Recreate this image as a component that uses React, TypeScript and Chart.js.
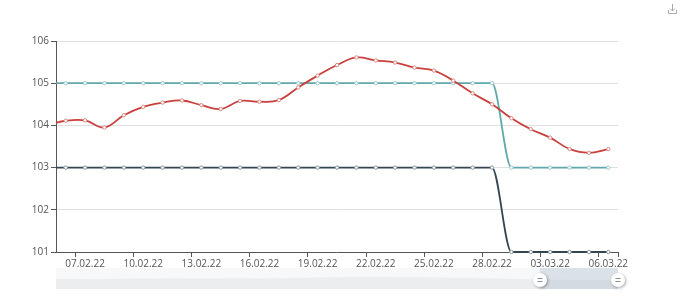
import React, { useEffect, useRef } from "react";
import { Chart, registerables } from "chart.js";

Chart.register(...registerables);

const dates = [
  "05.02.22", "06.02.22", "07.02.22", "08.02.22", "09.02.22", "10.02.22", "11.02.22", "12.02.22",
  "13.02.22", "14.02.22", "15.02.22", "16.02.22", "17.02.22", "18.02.22", "19.02.22", "20.02.22",
  "21.02.22", "22.02.22", "23.02.22", "24.02.22", "25.02.22", "26.02.22", "27.02.22", "28.02.22",
  "01.03.22", "02.03.22", "03.03.22", "04.03.22", "05.03.22", "06.03.22",
];

const redSeries = [
  104.0, 104.11, 104.12, 103.95, 104.24, 104.44, 104.54, 104.59, 104.48, 104.39, 104.58, 104.56,
  104.6, 104.9, 105.18, 105.43, 105.61, 105.54, 105.49, 105.37, 105.3, 105.06, 104.76, 104.5,
  104.17, 103.91, 103.71, 103.44, 103.35, 103.44,
];

const cyanSeries = [
  105, 105, 105, 105, 105, 105, 105, 105, 105, 105, 105, 105, 105, 105, 105, 105, 105, 105, 105,
  105, 105, 105, 105, 105, 103, 103, 103, 103, 103, 103,
];

const darkSeries = [
  103, 103, 103, 103, 103, 103, 103, 103, 103, 103, 103, 103, 103, 103, 103, 103, 103, 103, 103,
  103, 103, 103, 103, 103, 101, 101, 101, 101, 101, 101,
];

const yMin = 101;
const yMax = 106;
const firstShown = "06.02.22";

const sliderPlugin = {
  id: "sliderDecor",
  afterDraw(chart: any) {
    const { ctx, chartArea } = chart;
    const left = chartArea.left;
    const right = chartArea.right;
    const top = 268;
    const bottom = 289;
    ctx.save();
    ctx.fillStyle = "#f7f8f9";
    ctx.fillRect(left, top, right - left, bottom - top);
    const vals = redSeries.slice(1);
    const mn = Math.min(...vals);
    const mx = Math.max(...vals);
    ctx.beginPath();
    ctx.moveTo(left, bottom);
    vals.forEach((v, i) => {
      const x = left + ((right - left) * i) / (vals.length - 1);
      const y = bottom - 9 - ((v - mn) / (mx - mn)) * 3;
      ctx.lineTo(x, y);
    });
    ctx.lineTo(right, bottom);
    ctx.closePath();
    ctx.fillStyle = "#ebedef";
    ctx.fill();
    const selL = 540;
    const selR = right;
    ctx.fillStyle = "rgba(167,183,204,0.35)";
    ctx.fillRect(selL, top, selR - selL, bottom - top);
    [selL, selR].forEach((hx) => {
      ctx.save();
      ctx.shadowColor = "rgba(0,0,0,0.35)";
      ctx.shadowBlur = 3;
      ctx.shadowOffsetX = 1;
      ctx.shadowOffsetY = 1;
      ctx.beginPath();
      ctx.arc(hx, 280, 7, 0, Math.PI * 2);
      ctx.fillStyle = "#ffffff";
      ctx.fill();
      ctx.restore();
      ctx.strokeStyle = "#8a8f96";
      ctx.lineWidth = 1;
      ctx.beginPath();
      ctx.moveTo(hx - 2.5, 278.5);
      ctx.lineTo(hx + 2.5, 278.5);
      ctx.moveTo(hx - 2.5, 281.5);
      ctx.lineTo(hx + 2.5, 281.5);
      ctx.stroke();
    });
    ctx.strokeStyle = "#aaa";
    ctx.lineWidth = 1;
    ctx.beginPath();
    ctx.moveTo(672.5, 4);
    ctx.lineTo(672.5, 11);
    ctx.moveTo(670, 8.5);
    ctx.lineTo(672.5, 11);
    ctx.lineTo(675, 8.5);
    ctx.moveTo(668.5, 10);
    ctx.lineTo(668.5, 13.5);
    ctx.lineTo(676.5, 13.5);
    ctx.lineTo(676.5, 10);
    ctx.stroke();
    ctx.restore();
  },
};

export default function App() {
  const canvasRef = useRef<HTMLCanvasElement | null>(null);

  useEffect(() => {
    document.body.style.margin = "0";
    const canvas = canvasRef.current;
    if (!canvas) return;
    const pointStyle = (color: string, marker: string) => ({
      borderColor: color,
      pointBorderColor: marker,
      pointBackgroundColor: "#ffffff",
      pointRadius: 1.7,
      pointBorderWidth: 1,
      pointHoverRadius: 1.7,
      borderWidth: 1.8,
      fill: false,
      clip: { left: 0, top: 3, right: 3, bottom: 3 },
    });
    const chart = new Chart(canvas, {
      type: "line",
      data: {
        labels: dates,
        datasets: [
          {
            label: "red",
            data: redSeries,
            tension: 0.4,
            ...pointStyle("#c9403d", "#d98a88"),
            order: 0,
          } as any,
          {
            label: "cyan",
            data: cyanSeries,
            cubicInterpolationMode: "monotone",
            ...pointStyle("#61a8ac", "#9cc6c8"),
            order: 1,
          } as any,
          {
            label: "dark",
            data: darkSeries,
            cubicInterpolationMode: "monotone",
            ...pointStyle("#34464f", "#8c979c"),
            order: 2,
          } as any,
        ],
      },
      options: {
        animation: false,
        responsive: false,
        maintainAspectRatio: false,
        events: [],
        layout: { padding: { left: 0, top: 41, right: 62, bottom: 0 } },
        plugins: {
          legend: { display: false },
          tooltip: { enabled: false },
        },
        scales: {
          x: {
            type: "category",
            min: firstShown,
            offset: true,
            afterFit: (scale: any) => {
              scale.height = 55;
            },
            border: { display: true, color: "#555", width: 1 },
            grid: {
              display: true,
              offset: true,
              drawOnChartArea: false,
              drawTicks: true,
              tickLength: 5,
              tickColor: (c: any) =>
                c.index === undefined || c.index % 3 === 1 ? "#555" : "rgba(0,0,0,0)",
            },
            ticks: {
              autoSkip: false,
              maxRotation: 0,
              minRotation: 0,
              padding: 1,
              color: "#555",
              font: { family: "'Open Sans', 'Liberation Sans', sans-serif", size: 10 },
              callback: function (this: any, val: any, idx: number) {
                return idx % 3 === 1 ? this.getLabelForValue(val) : "";
              },
            },
          },
          y: {
            min: yMin,
            max: yMax,
            afterFit: (scale: any) => {
              scale.width = 56;
            },
            border: { display: true, color: "#555", width: 1 },
            grid: {
              color: "#e0e0e0",
              tickColor: "#555",
              tickLength: 5,
              lineWidth: 1,
            },
            ticks: {
              stepSize: 1,
              padding: 2,
              color: "#555",
              font: { family: "'Open Sans', 'Liberation Sans', sans-serif", size: 10 },
            },
          },
        },
      },
      plugins: [sliderPlugin],
    });
    return () => {
      chart.destroy();
    };
  }, []);

  return (
    <div style={{ width: 680, height: 307, background: "#fff" }}>
      <canvas ref={canvasRef} width={680} height={307} style={{ display: "block" }} />
    </div>
  );
}
